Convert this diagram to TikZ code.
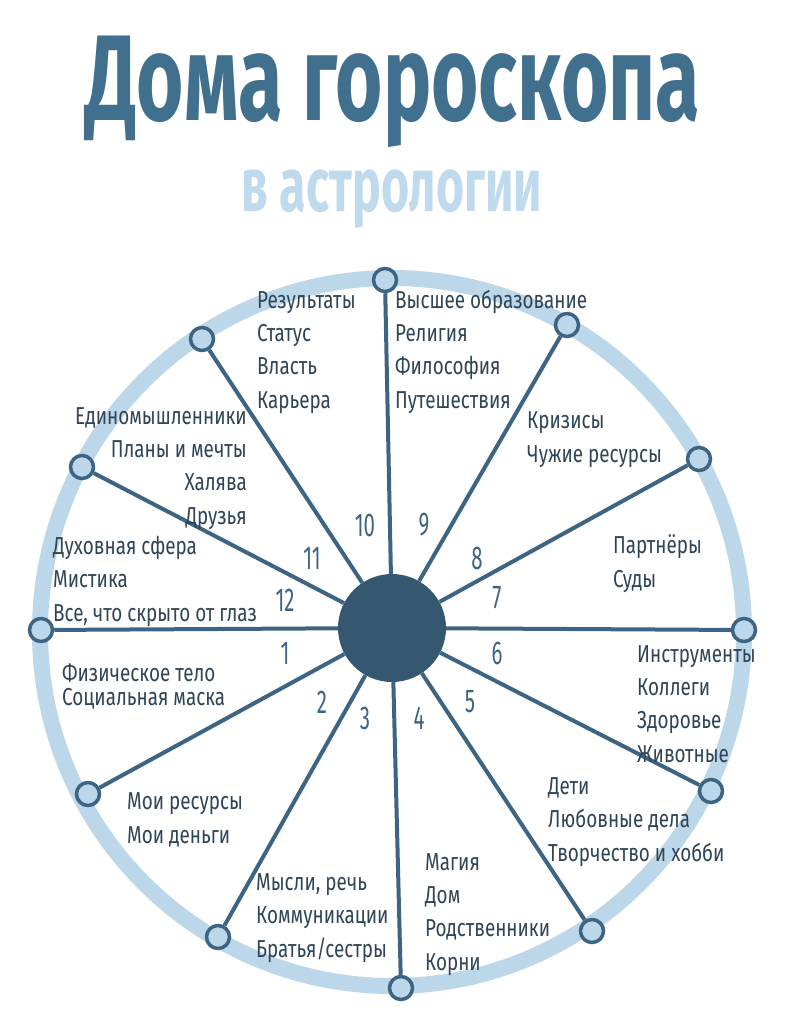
\documentclass[tikz,border=0pt]{standalone}
\usepackage{fontspec}
\setmainfont{Fira Sans}[FakeStretch=0.77]
\newfontfamily\headfont{Fira Sans}[FakeStretch=0.665]
\newfontfamily\subfont{Fira Sans}[FakeStretch=0.635]
\newfontfamily\numfont{Fira Sans}[FakeStretch=0.62]
\usepackage{tikz}
\definecolor{head}{HTML}{41708F}
\definecolor{pale}{HTML}{BFDAEC}
\definecolor{ringblue}{HTML}{BDD7EA}
\definecolor{steel}{HTML}{3D6483}
\definecolor{hubblue}{HTML}{35576F}
\definecolor{ink}{HTML}{2F4456}
\tikzset{
  band/.style={draw=ringblue,line width=16pt},
  spoke/.style={draw=steel,line width=4pt},
  hub/.style={circle,fill=hubblue,minimum size=108pt,inner sep=0pt},
  cusp/.style={circle,draw=steel,fill=ringblue,line width=3.5pt,minimum size=23pt,inner sep=0pt},
  topic/.style={font=\fontsize{24.5}{33.3}\selectfont,text=ink,inner sep=0pt},
  num/.style={font=\numfont\fontsize{33}{33}\selectfont,text=steel,inner sep=0pt}
}

\begin{document}
\begin{tikzpicture}[x=1pt,y=-1pt]
  \useasboundingbox (0,0) rectangle (785,1024);
  \node[font=\headfont\bfseries\fontsize{122}{122}\selectfont,text=head,anchor=base] (title) at (393,121) {Дома гороскопа};
  \node[font=\subfont\bfseries\fontsize{76}{76}\selectfont,text=pale,anchor=base] (subtitle) at (392,212) {в астрологии};
  % wheel
  \draw[band] (392,632) ellipse [x radius=352,y radius=354];
  \node[hub] (hub) at (392,628) {};
  \foreach \n/\x/\y in {1/41/630, 2/88/794, 3/218/937, 4/401/988, 5/592/931, 6/711/791,
                        7/744/630, 8/699/459, 9/567/325, 10/385/280, 11/202/339, 12/82/467}
    \node[cusp] (c\n) at (\x,\y) {};
  \foreach \n in {1,...,12} \draw[spoke] (hub) -- (c\n);
  % house numbers
  \foreach \n/\x/\y in {1/285/653, 2/322/702, 3/365/718, 4/419/718, 5/470/702, 6/497/653,
                        7/497/598, 8/477/558, 9/424/525, 10/365/525, 11/312/558, 12/285/600}
    \node[num] (h\n) at (\x,\y) {\n};
  % meanings (base = last line)
  \node[topic,anchor=base west,align=left] (t10) at (257,408) {Результаты\\Статус\\Власть\\Карьера};
  \node[topic,anchor=base west,align=left] (t9) at (395,408) {Высшее образование\\Религия\\Философия\\Путешествия};
  \node[topic,anchor=base east,align=right] (t11) at (247,524) {Единомышленники\\Планы и мечты\\Халява\\Друзья};
  \node[topic,anchor=base west,align=left] (t8) at (527,462) {Кризисы\\Чужие ресурсы};
  \node[topic,anchor=base west,align=left] (t12) at (53,621) {Духовная сфера\\Мистика\\Все, что скрыто от глаз};
  \node[topic,anchor=base west,align=left] (t7) at (613,587) {Партнёры\\Суды};
  \node[topic,anchor=base west,align=left,font=\fontsize{24.5}{23.5}\selectfont] (t1) at (62,705) {Физическое тело\\Социальная маска};
  \node[topic,anchor=base west,align=left] (t6) at (637,762) {Инструменты\\Коллеги\\Здоровье\\Животные};
  \node[topic,anchor=base west,align=left] (t2) at (127,843) {Мои ресурсы\\Мои деньги};
  \node[topic,anchor=base west,align=left] (t5) at (548,861) {Дети\\Любовные дела\\Творчество и хобби};
  \node[topic,anchor=base west,align=left] (t3) at (256,957) {Мысли, речь\\Коммуникации\\Братья/сестры};
  \node[topic,anchor=base west,align=left] (t4) at (425,970) {Магия\\Дом\\Родственники\\Корни};
\end{tikzpicture}
\end{document}
